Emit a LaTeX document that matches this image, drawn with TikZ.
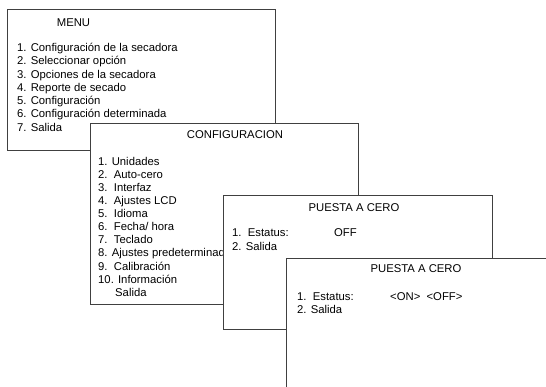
\documentclass[tikz,border=0pt]{standalone}
\usepackage{fontspec}
\setmainfont{Liberation Sans}
\begin{document}
\begin{tikzpicture}[x=1pt,y=-1pt,
  panel/.style={draw=black!75, line width=0.8pt, fill=white, anchor=north west, inner sep=0pt},
  txt/.style={anchor=base west, inner sep=0pt, font=\fontsize{11.3}{13.3}\selectfont, text=black},
  ttl/.style={anchor=base, inner sep=0pt, font=\fontsize{11.3}{13.3}\selectfont, text=black}]
\useasboundingbox (0,0) rectangle (546,387);
\clip (0,0) rectangle (546,387);
% MENU
\node[panel, minimum width=268pt, minimum height=141pt] (menu) at (7,9.5) {};
\node[ttl] (menut) at (73.5,27) {MENU};
\node[txt] (m1) at (17,51.5) {1. Configuración de la secadora};
\node[txt] (m2) at (17,64.8) {2. Seleccionar opción};
\node[txt] (m3) at (17,78.1) {3. Opciones de la secadora};
\node[txt] (m4) at (17,91.4) {4. Reporte de secado};
\node[txt] (m5) at (17,104.7) {5. Configuración};
\node[txt] (m6) at (17,118.0) {6. Configuración determinada};
\node[txt] (m7) at (17,131.3) {7. Salida};
% CONFIGURACION
\node[panel, minimum width=268pt, minimum height=181pt] (conf) at (90,123) {};
\node[ttl] (conft) at (235,139) {CONFIGURACION};
\node[txt] (c1) at (98,165.5) {1. Unidades};
\node[txt] (c2) at (98,178.6) {2.\ \ Auto-cero};
\node[txt] (c3) at (98,191.6) {3.\ \ Interfaz};
\node[txt] (c4) at (98,204.7) {4.\ \ Ajustes LCD};
\node[txt] (c5) at (98,217.8) {5.\ \ Idioma};
\node[txt] (c6) at (98,230.9) {6.\ \ Fecha/ hora};
\node[txt] (c7) at (98,243.9) {7.\ \ Teclado};
\node[txt] (c8) at (98,257.0) {8. Ajustes predeterminados};
\node[txt] (c9) at (98,270.1) {9.\ \ Calibración};
\node[txt] (c10) at (98,283.2) {10. Información};
\node[txt] (c11) at (115,296.2) {Salida};
% PUESTA A CERO 1
\node[panel, minimum width=269pt, minimum height=133.5pt] (pc1) at (223,195.5) {};
\node[ttl] (pc1t) at (354,212) {PUESTA A CERO};
\node[txt] (p1) at (232,237) {1.\ \ Estatus:};
\node[txt] (p1v) at (334,237) {OFF};
\node[txt] (p2) at (232,250.3) {2. Salida};
% PUESTA A CERO 2 (runs off the page)
\fill[white] (286,258) rectangle (560,400);
\coordinate (q0) at (286,400);
\coordinate (q1) at (286,258);
\coordinate (q2) at (560,258);
\draw[draw=black!75, line width=0.8pt] (q0) -- (q1) -- (q2);
\node[ttl] (pc2t) at (416,272.5) {PUESTA A CERO};
\node[txt] (q1a) at (297,300.5) {1.\ \ Estatus:};
\node[txt] (q1v) at (390,300.5) {<ON>\ \ <OFF>};
\node[txt] (q2a) at (297,313) {2. Salida};
\end{tikzpicture}
\end{document}
